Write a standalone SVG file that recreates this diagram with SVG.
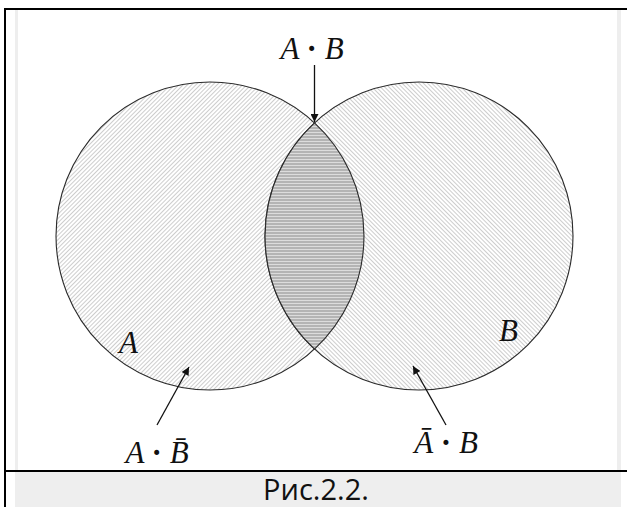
<svg xmlns="http://www.w3.org/2000/svg" width="627" height="507" viewBox="0 0 627 507">
<style>
.circ{stroke:#2a2a2a;stroke-width:1.1}
.math{font-family:"Liberation Serif","DejaVu Serif",serif;font-style:italic;font-size:31px;fill:#111}
.dot{font-style:normal;font-weight:bold}
.cap{font-family:"Open Sans","Noto Sans",sans-serif;font-size:29px;fill:#111}
.conn{stroke:#111;stroke-width:1.3;fill:none}
</style>
<defs>
<pattern id="hatchL" width="3" height="3" patternUnits="userSpaceOnUse" patternTransform="rotate(45)">
<rect width="3" height="3" fill="#fff"/><rect width="1" height="3" fill="#cdcdcd"/>
</pattern>
<pattern id="hatchR" width="3" height="3" patternUnits="userSpaceOnUse" patternTransform="rotate(-45)">
<rect width="3" height="3" fill="#fff"/><rect width="1" height="3" fill="#cdcdcd"/>
</pattern>
<pattern id="hatchM" width="3" height="3" patternUnits="userSpaceOnUse">
<rect width="3" height="3" fill="#b4b4b4"/><rect width="3" height="1" fill="#dcdcdc"/>
</pattern>
<marker id="arr" viewBox="0 0 10 10" refX="10" refY="5" markerWidth="9" markerHeight="8" markerUnits="userSpaceOnUse" orient="auto">
<path d="M0,0 L10,5 L0,10 Z" fill="#111"/>
</marker>
</defs>
<rect x="0" y="0" width="627" height="507" fill="#fff"/>
<rect x="15" y="10" width="3" height="497" fill="#eee"/>
<rect x="617" y="10" width="4" height="462" fill="#eee"/>
<rect x="15" y="472" width="606" height="35" fill="#eee"/>
<rect x="4" y="8" width="623" height="2" fill="#000"/>
<rect x="4" y="8" width="2" height="499" fill="#000"/>
<rect x="4" y="470" width="623" height="2" fill="#000"/>

<g id="circleA">
<circle class="circ" cx="210" cy="236" r="154" fill="url(#hatchL)"/>
</g>
<g id="circleB">
<circle class="circ" cx="419" cy="236" r="154" fill="url(#hatchR)"/>
</g>
<g id="intersection">
<path class="circ" d="M314.5,122.9 A154,154 0 0 0 314.5,349.1 A154,154 0 0 0 314.5,122.9 Z" fill="url(#hatchM)"/>
</g>

<g id="labels">
<text class="math" x="119" y="353">A</text>
<text class="math" x="499" y="341">B</text>
</g>

<g id="connectors">
<line class="conn" x1="314.5" y1="65" x2="314.5" y2="122" marker-end="url(#arr)"/>
<line class="conn" x1="157" y1="425" x2="189" y2="367" marker-end="url(#arr)"/>
<line class="conn" x1="446" y1="425" x2="413" y2="366" marker-end="url(#arr)"/>
</g>

<g id="labelAB">
<text class="math" x="312" y="59" text-anchor="middle">A <tspan class="dot">·</tspan> B</text>
</g>
<g id="labelAnotB">
<text class="math" x="157" y="463" text-anchor="middle">A <tspan class="dot">·</tspan> B̄</text>
</g>
<g id="labelnotAB">
<text class="math" x="446" y="453" text-anchor="middle">Ā <tspan class="dot">·</tspan> B</text>
</g>
<g id="caption">
<text class="cap" x="316" y="500" text-anchor="middle">Рис.2.2.</text>
</g>
</svg>
